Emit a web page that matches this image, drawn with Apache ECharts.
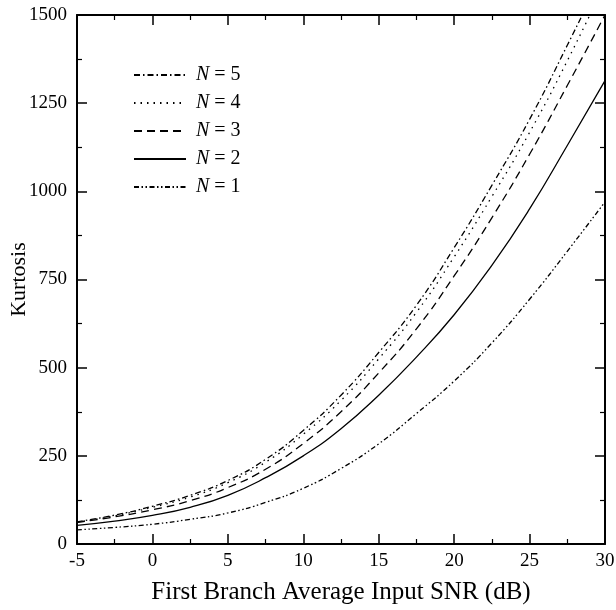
<!DOCTYPE html>
<html>
<head>
<meta charset="utf-8">
<script src="https://cdn.jsdelivr.net/npm/echarts@6/dist/echarts.min.js"></script>
<style>html,body{margin:0;padding:0;background:#fff}#c{width:616px;height:610px}</style>
</head>
<body>
<div id="c"></div>
<script>
// Data
var snr = [-5, -2.5, 0, 2.5, 5, 7.5, 10, 12.5, 15, 17.5, 20, 22.5, 25, 27.5, 30];
var kurtN1 = [40, 47, 56, 70, 88, 118, 158, 214, 284, 370, 462, 570, 694, 830, 970];
var kurtN2 = [53, 65, 81, 104, 138, 188, 250, 327, 422, 530, 650, 790, 950, 1130, 1314];
var kurtN3 = [61, 77, 97, 123, 160, 212, 285, 375, 485, 610, 760, 925, 1105, 1300, 1500];
var kurtN4 = [62, 80, 104, 133, 174, 232, 311, 407, 525, 657, 814, 985, 1167, 1370, 1590];
var kurtN5 = [63, 82, 107, 138, 180, 240, 322, 422, 543, 677, 840, 1017, 1204, 1414, 1632];
var seriesNames = ['N = 5', 'N = 4', 'N = 3', 'N = 2', 'N = 1'];
var xTitle = 'First Branch Average Input SNR (dB)';
var yTitle = 'Kurtosis';

var FONT = 'Liberation Serif';
function pairs(v) { return snr.map(function (x, i) { return [x, v[i]]; }); }
var dashes = {
  'N = 5': [6, 3, 1.5, 3],
  'N = 4': [1.5, 5],
  'N = 3': [8, 5],
  'N = 2': 'solid',
  'N = 1': [5, 2.5, 1.5, 2.5, 1.5, 2.5]
};
var values = { 'N = 5': kurtN5, 'N = 4': kurtN4, 'N = 3': kurtN3, 'N = 2': kurtN2, 'N = 1': kurtN1 };

var axisCommon = {
  axisLine: { show: true, onZero: false, lineStyle: { color: '#000', width: 2 } },
  axisTick: { show: true, inside: true, length: 10, lineStyle: { color: '#000', width: 1.5 } },
  minorTick: { show: true, splitNumber: 2, length: 5, lineStyle: { color: '#000', width: 1.2 } },
  splitLine: { show: false }
};
function plain(v) { return String(v); }

var chart = echarts.init(document.getElementById('c'), null, { renderer: 'canvas' });
chart.setOption({
  backgroundColor: '#fff',
  animation: false,
  grid: { left: 77, right: 11, top: 15, bottom: 66, containLabel: false, outerBoundsMode: 'none' },
  legend: {
    data: seriesNames,
    orient: 'vertical',
    left: 133,
    top: 65,
    padding: 0,
    itemWidth: 52,
    itemHeight: 14,
    itemGap: 8,
    itemStyle: { opacity: 0 },
    textStyle: { fontFamily: FONT, fontSize: 20, color: '#000', padding: [0, 0, 0, 5],
      rich: { i: { fontFamily: FONT, fontSize: 20, fontStyle: 'italic', color: '#000' } } },
    formatter: function (name) { return '{i|N}' + name.slice(1); }
  },
  xAxis: [
    Object.assign({
      type: 'value', min: -5, max: 30, interval: 5, position: 'bottom',
      name: xTitle, nameLocation: 'middle', nameGap: 36, nameMoveOverlap: false,
      nameTextStyle: { fontFamily: FONT, fontSize: 25, color: '#000' },
      axisLabel: { fontFamily: FONT, fontSize: 19, color: '#000', margin: 8, formatter: plain }
    }, axisCommon),
    Object.assign({
      type: 'value', min: -5, max: 30, interval: 5, position: 'top',
      axisLabel: { show: false }
    }, axisCommon)
  ],
  yAxis: [
    Object.assign({
      type: 'value', min: 0, max: 1500, interval: 250, position: 'left',
      name: yTitle, nameLocation: 'middle', nameGap: 47, nameMoveOverlap: false,
      nameTextStyle: { fontFamily: FONT, fontSize: 22, color: '#000' },
      axisLabel: { fontFamily: FONT, fontSize: 19, color: '#000', margin: 10, formatter: plain }
    }, axisCommon),
    Object.assign({
      type: 'value', min: 0, max: 1500, interval: 250, position: 'right',
      axisLabel: { show: false }
    }, axisCommon)
  ],
  series: seriesNames.map(function (n) {
    return {
      name: n, type: 'line', xAxisIndex: 0, yAxisIndex: 0,
      data: pairs(values[n]),
      symbol: 'none', smooth: 0.5, clip: true,
      lineStyle: { color: '#000', width: 1.3, type: dashes[n] },
      itemStyle: { color: '#000' }
    };
  })
});
</script>
</body>
</html>
